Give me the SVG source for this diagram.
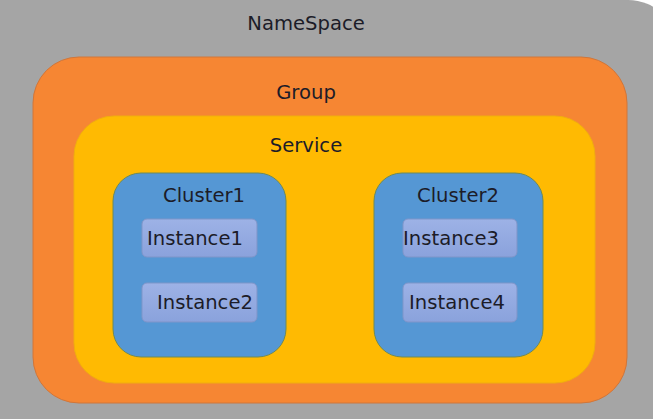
<svg xmlns="http://www.w3.org/2000/svg" width="653" height="419" viewBox="0 0 653 419">
<defs>
<linearGradient id="instGrad" x1="0" y1="0" x2="0" y2="1">
<stop offset="0" stop-color="#9db2e6"/>
<stop offset="1" stop-color="#8aa2dc"/>
</linearGradient>
</defs>
<style>
text{font-family:"DejaVu Sans","Noto Sans",sans-serif;font-size:19.6px;fill:#1c1c28;text-anchor:middle}
.cluster{fill:#5597d4;stroke:#6d8a5a;stroke-width:1}
.inst{fill:url(#instGrad);stroke:#7f95c9;stroke-width:1}
</style>
<rect width="653" height="419" fill="#ffffff"/>
<g id="namespace">
<path d="M0,0 H628 A50 50 0 0 1 678 50 V419 H0 Z" fill="#a5a5a5"/>
<text x="306" y="30">NameSpace</text>
</g>
<g id="group">
<rect x="33" y="57" width="594" height="346" rx="46" fill="#f68633" stroke="#d0763a" stroke-width="1"/>
<text x="306" y="99">Group</text>
</g>
<g id="service">
<rect x="74" y="116" width="521" height="267" rx="40" fill="#ffba02" stroke="#f0ad10" stroke-width="1"/>
<text x="306" y="152">Service</text>
</g>
<g id="cluster1">
<rect class="cluster" x="113" y="173" width="173" height="184" rx="28"/>
<text x="204" y="202">Cluster1</text>
</g>
<g id="cluster2">
<rect class="cluster" x="374" y="173" width="169" height="184" rx="28"/>
<text x="458" y="202">Cluster2</text>
</g>
<g id="instance1">
<rect class="inst" x="142" y="219" width="115" height="38" rx="5"/>
<text x="195" y="245">Instance1</text>
</g>
<g id="instance2">
<rect class="inst" x="142" y="283" width="115" height="39" rx="5"/>
<text x="205" y="309">Instance2</text>
</g>
<g id="instance3">
<rect class="inst" x="403" y="219" width="114" height="38" rx="5"/>
<text x="451" y="245">Instance3</text>
</g>
<g id="instance4">
<rect class="inst" x="403" y="283" width="114" height="39" rx="5"/>
<text x="457" y="309">Instance4</text>
</g>
<g id="connectors"></g>
</svg>
